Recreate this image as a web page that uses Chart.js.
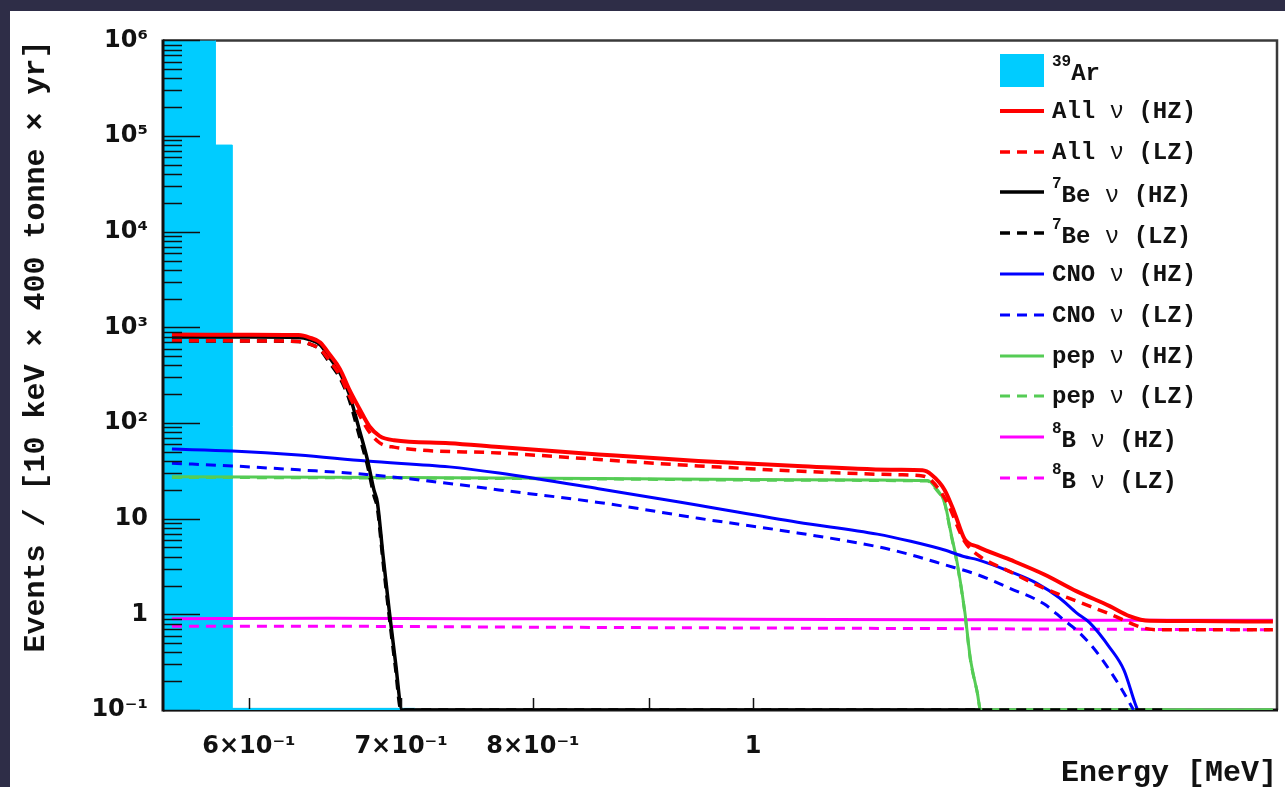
<!DOCTYPE html>
<html>
<head>
<meta charset="utf-8">
<script src="https://cdn.jsdelivr.net/npm/chart.js@4.4.1/dist/chart.umd.min.js"></script>
<style>
  body { margin:0; width:1285px; height:787px; background:#2e2d47; position:relative; overflow:hidden; }
  #panel { position:absolute; left:10px; top:11px; width:1275px; height:776px; background:#fff; }
  #legend { position:absolute; left:1000px; top:0; font-family:'Liberation Mono', monospace; font-weight:bold; font-size:24px; color:#111; }
  .row { position:absolute; left:0; height:40px; display:flex; align-items:center; white-space:pre; }
  .row svg { display:block; }
  .lab { margin-left:8px; position:relative; line-height:24px; }
  .lab sup { font-size:16px; position:relative; top:-14px; vertical-align:baseline; }
  .nu { font-weight:normal; }
</style>
</head>
<body>
<div id="panel"><canvas id="grafico" width="1275" height="776"></canvas></div>
<div id="legend"></div>
<script>
// energia em MeV, valores em eventos / (10 keV x 400 t x ano)
const arE = [0.55, 0.58, 0.59, 0.71];
const arV = [3e6, 8.05e4, 0.104, 0.104];

const allHzE = [0.555, 0.600, 0.631, 0.638, 0.645, 0.651, 0.658, 0.664, 0.671, 0.678, 0.685, 0.695, 0.735, 0.773, 0.855, 0.946, 1.046, 1.157, 1.187, 1.198, 1.214, 1.226, 1.239, 1.255, 1.297, 1.343, 1.388, 1.435, 1.464, 1.494, 1.567, 1.693];
const allHzV = [840, 838, 830, 783, 695, 523, 366, 228, 142, 92, 73, 66, 61.5, 56, 47, 40, 35.6, 32.4, 32, 28.8, 20, 11.7, 6.1, 5.1, 3.73, 2.61, 1.74, 1.22, 0.96, 0.855, 0.85, 0.84];

const allLzE = [0.555, 0.600, 0.631, 0.638, 0.645, 0.651, 0.658, 0.664, 0.671, 0.678, 0.685, 0.695, 0.773, 0.946, 1.157, 1.187, 1.198, 1.217, 1.239, 1.255, 1.297, 1.343, 1.388, 1.435, 1.485, 1.509, 1.693];
const allLzV = [725, 722, 712, 672, 590, 450, 312, 195, 122, 80, 62, 56, 48.6, 35.6, 28.8, 28, 25, 14.8, 5.75, 4.2, 2.8, 1.87, 1.37, 1.01, 0.72, 0.69, 0.69];

const be7HzE = [0.555, 0.600, 0.631, 0.638, 0.645, 0.651, 0.658, 0.664, 0.6711, 0.6766, 0.681, 0.6834, 0.6874, 0.6917, 0.6959, 0.7008, 1.259];
const be7HzV = [795, 792, 785, 745, 655, 485, 335, 205, 84, 41, 20, 14.8, 4.0, 1.08, 0.33, 0.1, 0.1];

const be7LzE = [0.555, 0.600, 0.631, 0.638, 0.645, 0.651, 0.658, 0.664, 0.6711, 0.6766, 0.681, 0.6834, 0.6874, 0.6917, 0.6959, 0.700, 1.515];
const be7LzV = [722, 720, 710, 670, 585, 430, 295, 180, 73, 36, 17.5, 13, 3.5, 0.95, 0.29, 0.1, 0.1];

const cnoHzE = [0.555, 0.590, 0.631, 0.676, 0.735, 0.773, 0.855, 0.946, 1.046, 1.134, 1.173, 1.214, 1.239, 1.255, 1.297, 1.333, 1.364, 1.388, 1.406, 1.435, 1.456, 1.472, 1.476];
const cnoHzV = [53.4, 51, 46.3, 40, 34.8, 30, 20.6, 13.8, 9.2, 6.9, 5.8, 4.7, 4.0, 3.73, 2.8, 2.11, 1.48, 1.03, 0.82, 0.45, 0.26, 0.119, 0.1];

const cnoLzE = [0.555, 0.590, 0.631, 0.676, 0.742, 0.773, 0.855, 0.946, 1.046, 1.134, 1.173, 1.214, 1.255, 1.297, 1.343, 1.370, 1.388, 1.411, 1.435, 1.456, 1.470];
const cnoLzV = [38, 35.6, 32.4, 29, 22.7, 20, 14.8, 10.1, 7.1, 5.1, 4.2, 3.3, 2.6, 1.87, 1.28, 0.87, 0.68, 0.45, 0.26, 0.15, 0.1];

const pepHzE = [0.555, 0.700, 0.855, 1.046, 1.193, 1.205, 1.214, 1.2215, 1.230, 1.239, 1.246, 1.255, 1.259, 1.693];
const pepHzV = [27.5, 27, 26.3, 25.5, 25, 20, 14.8, 7.3, 3.3, 1.08, 0.35, 0.15, 0.1, 0.1];

const pepLzE = [0.555, 0.700, 0.855, 1.046, 1.193, 1.205, 1.214, 1.2215, 1.230, 1.239, 1.246, 1.255, 1.259, 1.693];
const pepLzV = [27, 26.6, 26, 25.2, 24.7, 19.5, 14.5, 7.1, 3.2, 1.05, 0.34, 0.15, 0.1, 0.1];

const b8HzE = [0.555, 0.65, 0.75, 0.85, 1.0, 1.2, 1.4, 1.693];
const b8HzV = [0.90, 0.91, 0.90, 0.90, 0.89, 0.88, 0.87, 0.87];

const b8LzE = [0.555, 0.65, 0.75, 0.85, 1.0, 1.2, 1.4, 1.693];
const b8LzV = [0.75, 0.75, 0.74, 0.73, 0.72, 0.71, 0.70, 0.69];

const xTickValues = [0.6, 0.7, 0.8, 0.9, 1];
const xTickLabels = ['6×10⁻¹', '7×10⁻¹', '8×10⁻¹', '', '1'];
const yTickValues = [0.1, 1, 10, 100, 1e3, 1e4, 1e5, 1e6];
const yTickLabels = ['10⁻¹', '1', '10', '10²', '10³', '10⁴', '10⁵', '10⁶'];

const tracejado = [10, 7];

const series = [
  { sup: '39', text: 'Ar', e: arE, v: arV, color: '#00ccff', area: true, order: 30 },
  { sup: '', text: 'All ν (HZ)', e: allHzE, v: allHzV, color: '#ff0000', width: 4, order: 8 },
  { sup: '', text: 'All ν (LZ)', e: allLzE, v: allLzV, color: '#ff0000', width: 3.5, dash: tracejado, order: 9 },
  { sup: '7', text: 'Be ν (HZ)', e: be7HzE, v: be7HzV, color: '#000000', width: 3.5, order: 11 },
  { sup: '7', text: 'Be ν (LZ)', e: be7LzE, v: be7LzV, color: '#000000', width: 3.5, dash: tracejado, order: 12 },
  { sup: '', text: 'CNO ν (HZ)', e: cnoHzE, v: cnoHzV, color: '#0000ff', width: 3, order: 15 },
  { sup: '', text: 'CNO ν (LZ)', e: cnoLzE, v: cnoLzV, color: '#0000ff', width: 3, dash: tracejado, order: 16 },
  { sup: '', text: 'pep ν (HZ)', e: pepHzE, v: pepHzV, color: '#55cc55', width: 3, order: 17 },
  { sup: '', text: 'pep ν (LZ)', e: pepLzE, v: pepLzV, color: '#55cc55', width: 3, dash: tracejado, order: 18 },
  { sup: '8', text: 'B ν (HZ)', e: b8HzE, v: b8HzV, color: '#ff00ff', width: 3, order: 19 },
  { sup: '8', text: 'B ν (LZ)', e: b8LzE, v: b8LzV, color: '#ff00ff', width: 3, dash: tracejado, order: 20 }
];

function pontos(e, v) {
  return e.map((x, i) => ({ x: x, y: v[i] }));
}

const datasets = series.map(function (s) {
  if (s.area) {
    return {
      label: s.text, data: pontos(s.e, s.v), order: s.order,
      stepped: 'before', fill: 'start', backgroundColor: s.color,
      borderColor: s.color, borderWidth: 1, pointRadius: 0
    };
  }
  return {
    label: s.text, data: pontos(s.e, s.v), order: s.order,
    borderColor: s.color, borderWidth: s.width, borderDash: s.dash || [],
    cubicInterpolationMode: 'monotone', fill: false, pointRadius: 0
  };
});

// moldura por baixo das curvas, eixo y e ticks por cima (estilo ROOT)
const moldura = {
  id: 'moldura',
  beforeDatasetsDraw(chart) {
    const { ctx, chartArea: a } = chart;
    ctx.save();
    ctx.strokeStyle = '#3a3a3a';
    ctx.lineWidth = 2.5;
    ctx.beginPath();
    ctx.moveTo(a.left, a.top); ctx.lineTo(a.right, a.top); ctx.lineTo(a.right, a.bottom);
    ctx.stroke();
    ctx.strokeStyle = '#111';
    ctx.lineWidth = 3;
    ctx.beginPath();
    ctx.moveTo(a.left, a.bottom); ctx.lineTo(a.right + 1, a.bottom);
    ctx.stroke();
    ctx.restore();
  },
  afterDatasetsDraw(chart) {
    const { ctx, chartArea: a, scales: { x, y } } = chart;
    ctx.save();
    ctx.strokeStyle = '#111';
    ctx.lineWidth = 1.5;
    ctx.beginPath();
    yTickValues.forEach(function (v) {
      const py = Math.round(y.getPixelForValue(v)) + 0.5;
      ctx.moveTo(a.left, py); ctx.lineTo(a.left + 37, py);
      if (v < 1e6) {
        for (let m = 2; m <= 9; m++) {
          const pm = Math.round(y.getPixelForValue(v * m)) + 0.5;
          ctx.moveTo(a.left, pm); ctx.lineTo(a.left + 19, pm);
        }
      }
    });
    xTickValues.forEach(function (v) {
      const px = Math.round(x.getPixelForValue(v)) + 0.5;
      ctx.moveTo(px, a.bottom - 1); ctx.lineTo(px, a.bottom - 12);
    });
    ctx.stroke();
    ctx.lineWidth = 3;
    ctx.beginPath();
    ctx.moveTo(a.left, a.top - 1); ctx.lineTo(a.left, a.bottom + 1.5);
    ctx.stroke();
    ctx.restore();
  }
};

const fonteEixo = { family: 'DejaVu Sans', weight: 'bold', size: 24 };
const fonteTitulo = { family: 'Liberation Mono', weight: 'bold', size: 30, lineHeight: 0.8 };

new Chart(document.getElementById('grafico'), {
  type: 'line',
  data: { datasets: datasets },
  options: {
    responsive: false,
    animation: false,
    layout: { padding: { top: 21, right: 8, left: 0, bottom: 0 } },
    plugins: { legend: { display: false }, tooltip: { enabled: false } },
    scales: {
      x: {
        type: 'logarithmic', min: 0.55, max: 1.7,
        grid: { display: false, drawTicks: false }, border: { display: false },
        afterBuildTicks: function (s) { s.ticks = xTickValues.map(v => ({ value: v })); },
        afterFit: function (s) { s.height = 77; },
        ticks: {
          autoSkip: false, maxRotation: 0, padding: 22, color: '#111', font: fonteEixo,
          callback: (v, i) => xTickLabels[i]
        },
        title: {
          display: true, text: 'Energy [MeV]', align: 'end', color: '#111',
          font: fonteTitulo, padding: { top: 0, bottom: 2 }
        }
      },
      y: {
        type: 'logarithmic', min: 0.1, max: 1e6,
        grid: { display: false, drawTicks: false }, border: { display: false },
        afterBuildTicks: function (s) { s.ticks = yTickValues.map(v => ({ value: v })); },
        afterFit: function (s) { s.width = 153; },
        ticks: {
          autoSkip: false, padding: 15, color: '#111', font: fonteEixo,
          callback: (v, i) => yTickLabels[i]
        },
        title: {
          display: true, text: 'Events / [10 keV × 400 tonne × yr]', align: 'end', color: '#111',
          font: { family: 'Liberation Mono', weight: 'bold', size: 30, lineHeight: 1.2 },
          padding: { top: 8, bottom: 0 }
        }
      }
    }
  },
  plugins: [moldura]
});

// legenda em HTML, dentro do painel
const legenda = document.getElementById('legend');
series.forEach(function (s, i) {
  const centro = 70 + i * 40.8;
  const row = document.createElement('div');
  row.className = 'row';
  row.style.top = (centro - 20) + 'px';
  let swatch;
  if (s.area) {
    swatch = '<div style="width:44px;height:33px;background:' + s.color + '"></div>';
  } else {
    const dash = s.dash ? ' stroke-dasharray="' + s.dash.join(',') + '"' : '';
    swatch = '<svg width="44" height="40"><line x1="0" y1="20" x2="44" y2="20" stroke="' + s.color +
      '" stroke-width="' + s.width + '"' + dash + '/></svg>';
  }
  const texto = s.text.replace('ν', '<span class="nu">ν</span>');
  const sup = s.sup ? '<sup>' + s.sup + '</sup>' : '';
  const desloc = s.sup ? 5 : 1;
  row.innerHTML = swatch + '<span class="lab" style="top:' + desloc + 'px">' + sup + texto + '</span>';
  legenda.appendChild(row);
});
</script>
</body>
</html>
